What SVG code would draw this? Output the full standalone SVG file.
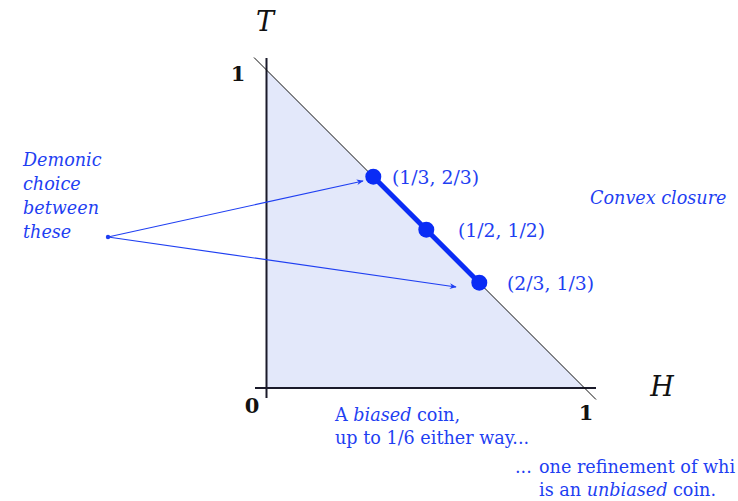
<svg xmlns="http://www.w3.org/2000/svg" width="738" height="501" viewBox="0 0 738 501">
<defs>
<style>
.lbl{font-family:"DejaVu Serif","Liberation Serif",serif;fill:#1f3ff2;font-size:17.6px}
.co{font-size:18.8px}
.it{font-style:italic}
.ax{font-family:"DejaVu Serif","Liberation Serif",serif;fill:#111;font-weight:bold;font-size:21px}
.var{font-family:"DejaVu Serif","Liberation Serif",serif;fill:#111;font-style:italic;font-size:27px}
.arr{stroke:#1f3ff2;stroke-width:1.2;fill:none}
.pt{fill:#0a2cf5}
</style>
<marker id="ah" viewBox="0 0 10 10" refX="9" refY="5" markerWidth="7" markerHeight="7" orient="auto" markerUnits="userSpaceOnUse">
<path d="M0,1 L10,5 L0,9 L3,5 Z" fill="#1f3ff2"/>
</marker>
</defs>
<g id="region">
<polygon points="266.5,70 266.5,388 584.5,388" fill="#e3e8fa"/>
</g>
<g id="axes">
<line x1="266.5" y1="58" x2="266.5" y2="398" stroke="#1a1a2a" stroke-width="2"/>
<line x1="255" y1="388" x2="596" y2="388" stroke="#1a1a2a" stroke-width="2"/>
<line x1="254" y1="57.5" x2="596" y2="399.5" stroke="#111" stroke-width="1"/>
<text class="var" x="265" y="31" text-anchor="middle">T</text>
<text class="var" x="662" y="396" text-anchor="middle">H</text>
<text class="ax" x="238" y="81" text-anchor="middle">1</text>
<text class="ax" x="252" y="413" text-anchor="middle">0</text>
<text class="ax" x="586" y="420" text-anchor="middle">1</text>
</g>
<g id="segment">
<line x1="373.3" y1="176.7" x2="479.3" y2="282.7" stroke="#0a2cf5" stroke-width="5"/>
</g>
<g id="connectors">
<line class="arr" x1="108" y1="237" x2="363" y2="181" marker-end="url(#ah)"/>
<line class="arr" x1="108" y1="237" x2="456" y2="287" marker-end="url(#ah)"/>
<circle cx="108" cy="237" r="2.2" fill="#1f3ff2"/>
</g>
<g id="p1">
<circle class="pt" cx="373.3" cy="176.7" r="8"/>
<text class="lbl co" x="392" y="184">(1/3, 2/3)</text>
</g>
<g id="p2">
<circle class="pt" cx="426.3" cy="229.7" r="8"/>
<text class="lbl co" x="458" y="237">(1/2, 1/2)</text>
</g>
<g id="p3">
<circle class="pt" cx="479.3" cy="282.7" r="8"/>
<text class="lbl co" x="507" y="290">(2/3, 1/3)</text>
</g>
<g id="demonic">
<text class="lbl it" x="23" y="166">Demonic</text>
<text class="lbl it" x="23" y="190">choice</text>
<text class="lbl it" x="23" y="214">between</text>
<text class="lbl it" x="23" y="238">these</text>
</g>
<g id="convex">
<text class="lbl it" x="590" y="204">Convex closure</text>
</g>
<g id="biased">
<text class="lbl" x="335" y="421">A <tspan class="it">biased</tspan> coin,</text>
<text class="lbl" x="335" y="444">up to 1/6 either way...</text>
</g>
<g id="refine">
<text class="lbl" x="515" y="473">...</text>
<text class="lbl" x="539" y="473">one refinement of whi</text>
<text class="lbl" x="539" y="496">is an <tspan class="it">unbiased</tspan> coin.</text>
</g>
</svg>
